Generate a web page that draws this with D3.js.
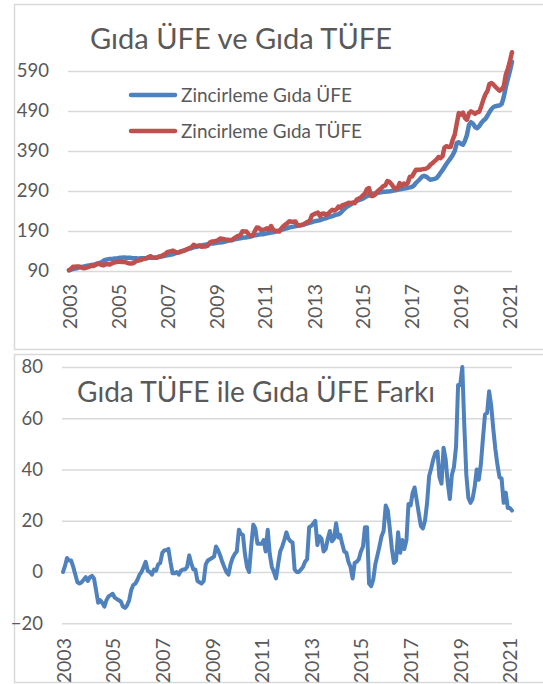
<!DOCTYPE html>
<html>
<head>
<meta charset="utf-8">
<script src="https://cdn.jsdelivr.net/npm/d3@7"></script>
<style>
  body { margin: 0; background: #fff; }
  svg { display: block; }
  text { font-family: Lato, "Open Sans", sans-serif; fill: #595959; }
</style>
</head>
<body>
<svg id="chart" width="543" height="684"></svg>
<script>
// monthly data, Jan 2003 .. Feb 2021
const startYear = 2003

const ufe = [
  92, 93, 95, 96, 97, 99, 100, 101, 102, 103, 104, 105,
  106, 107, 109, 110, 112, 116, 118, 119, 120, 120, 121, 121,
  122, 123, 123, 124, 123, 123, 123, 122, 122, 122, 121, 122,
  122, 122, 122, 123, 123, 123, 123, 124, 125, 126, 127, 128,
  129, 130, 131, 132, 134, 136, 137, 139, 141, 142, 144, 146,
  147, 149, 150, 151, 153, 154, 155, 156, 157, 158, 159, 159,
  160, 161, 161, 162, 163, 164, 166, 167, 168, 169, 170, 171,
  172, 173, 174, 174, 175, 176, 178, 179, 180, 181, 182, 182,
  183, 184, 185, 186, 187, 188, 190, 191, 193, 194, 196, 197,
  199, 200, 201, 202, 203, 204, 205, 206, 208, 209, 211, 212,
  214, 215, 216, 217, 219, 221, 222, 224, 226, 227, 229, 231,
  232, 235, 240, 245, 250, 253, 256, 259, 262, 265, 267, 269,
  271, 274, 277, 280, 282, 283, 284, 285, 286, 287, 288, 288,
  289, 289, 290, 291, 292, 293, 294, 295, 296, 297, 298, 299,
  300, 304, 310, 315, 320, 326, 328, 326, 322, 318, 319, 320,
  322, 328, 335, 342, 350, 358, 365, 372, 380, 390, 410, 412,
  408, 406, 415, 430, 455, 462, 458, 450, 447, 452, 460, 466,
  470, 478, 487, 495, 500, 502, 503, 504, 508, 525, 550, 570,
  590, 613
]

const tufe = [
  92, 95.5, 100.5, 100.5, 101.5, 101, 99, 97, 97.5, 99, 101, 103,
  102.5, 105, 107.5, 107.5, 105, 104, 107, 107, 106.5, 109, 111.5, 112,
  113.5, 113, 112.5, 113, 111.5, 109.5, 109, 109, 111, 115, 116, 117.5,
  119, 121, 122, 125, 127, 123.5, 123, 123, 126, 126.5, 130, 131.5,
  136.5, 138.5, 139.5, 141, 138, 135.5, 136.5, 139, 140, 142.5, 145, 147,
  149, 155.5, 153.5, 152, 154, 150.5, 151, 151.5, 153.5, 161, 163.5, 164,
  165.5, 167, 171, 170.5, 169.5, 168, 168, 167, 167, 172, 175.5, 178,
  180, 189.5, 189, 188.5, 182, 178, 178, 189, 198.5, 198, 193, 193,
  194, 196.5, 193, 202.5, 194, 190, 190, 188.5, 196, 202, 206, 209.5,
  214.5, 213, 213, 213.5, 204, 204, 205, 207, 210, 213, 216, 229.5,
  232, 234, 236, 227.5, 233, 234, 230, 233, 239, 243, 241, 244,
  251, 248.5, 254.5, 256, 258, 260.5, 260, 261, 259.5, 268.5, 271, 274,
  279, 284, 294.5, 297.5, 277.5, 277.5, 281, 288, 292.5, 297, 302, 304,
  315, 313, 307, 300, 295.5, 297.5, 309.5, 302.5, 308.5, 306, 310.5, 325.5,
  326, 335, 343, 343, 343, 344, 345, 346, 349, 355.5, 359.5, 364,
  368.5, 375, 372, 376.5, 398.5, 402, 400, 400.5, 418, 431, 459, 485,
  481, 486, 473, 468, 484, 489, 486.5, 483, 487, 488, 502, 518,
  531.5, 540, 557.5, 560, 556, 550, 545, 541, 544.5, 552, 581, 595,
  615, 637
]

const fark = [
  0, 2.5, 5.5, 4.5, 4.5, 2, -1, -4, -4.5, -4, -3, -2,
  -3.5, -2, -1.5, -2.5, -7, -12, -11, -12, -13.5, -11, -9.5, -9,
  -8.5, -10, -10.5, -11, -11.5, -13.5, -14, -13, -11, -7, -5, -4.5,
  -3, -1, 0, 2, 4, 0.5, 0, -1, 1, 0.5, 3, 3.5,
  7.5, 8.5, 8.5, 9, 4, -0.5, -0.5, 0, -1, 0.5, 1, 1,
  2, 6.5, 3.5, 1, 1, -3.5, -4, -4.5, -3.5, 3, 4.5, 5,
  5.5, 6, 10, 8.5, 6.5, 4, 2, 0, -1, 3, 5.5, 7,
  8, 16.5, 15, 14.5, 7, 2, 0, 10, 18.5, 17, 11, 11,
  11, 12.5, 8, 16.5, 7, 2, 0, -2.5, 3, 8, 10, 12.5,
  15.5, 13, 12, 11.5, 1, 0, 0, 1, 2, 4, 5, 17.5,
  18, 19, 20, 10.5, 14, 13, 8, 9, 13, 16, 12, 13,
  19, 13.5, 14.5, 11, 8, 7.5, 4, 2, -2.5, 3.5, 4, 5,
  8, 10, 17.5, 17.5, -4.5, -5.5, -3, 3, 6.5, 10, 14, 16,
  26, 24, 17, 9, 3.5, 4.5, 15.5, 7.5, 12.5, 9, 12.5, 26.5,
  26, 31, 33, 28, 23, 18, 17, 20, 27, 37.5, 40.5, 44,
  46.5, 47, 37, 34.5, 48.5, 44, 35, 28.5, 38, 41, 49, 73,
  73, 80, 58, 38, 29, 27, 28.5, 33, 40, 36, 42, 52,
  61.5, 62, 70.5, 65, 56, 48, 42, 37, 36.5, 27, 31, 25,
  25, 24
]

const topTicks = [90, 190, 290, 390, 490, 590]
const bottomTicks = [-20, 0, 20, 40, 60, 80]
const yearTicks = [2003, 2005, 2007, 2009, 2011, 2013, 2015, 2017, 2019, 2021]
const seriesNames = ['Zincirleme Gıda ÜFE', 'Zincirleme Gıda TÜFE']
const titles = ['Gıda ÜFE ve Gıda TÜFE', 'Gıda TÜFE ile Gıda ÜFE Farkı']

const blue = '#4f81bd'
const red = '#c0504d'
const grid = '#d9d9d9'

const dates = ufe.map((d, i) => new Date(startYear, i, 1))
const svg = d3.select('#chart')

// squeeze text to a width (Calibri is narrower than Lato at the same height)
const fitText = (sel, w) => {
  sel.attr('textLength', w).attr('lengthAdjust', 'spacingAndGlyphs')
}

const drawPanel = (p) => {
  svg.append('rect')
    .attr('x', 14.5).attr('y', p.top + 0.5)
    .attr('width', 540).attr('height', p.height)
    .style('fill', 'none').style('stroke', grid).style('stroke-width', 1.5)

  const x = d3.scaleTime()
    .domain([dates[0], dates[dates.length - 1]])
    .range([p.x0, p.x1])
  const y = d3.scaleLinear().domain(p.domain).range(p.range)

  const yAxis = svg.append('g')
    .attr('transform', 'translate(' + p.gridX + ',0)')
    .call(d3.axisLeft(y).tickValues(p.ticks).tickSize(-(p.x1 - p.gridX)).tickPadding(p.pad))
  yAxis.select('.domain').remove()
  yAxis.selectAll('line').style('stroke', grid).style('stroke-width', 1.5)
  yAxis.selectAll('text')
    .style('font-size', '18.5px').style('font-family', 'Lato, sans-serif')
    .attr('fill', '#595959')

  const xAxis = svg.append('g')
    .attr('transform', 'translate(0,' + p.labelY + ')')
    .call(d3.axisBottom(x)
      .tickValues(yearTicks.map(yr => new Date(yr, 0, 1)))
      .tickFormat(d3.timeFormat('%Y'))
      .tickSize(0))
  xAxis.select('.domain').remove()
  xAxis.selectAll('text')
    .attr('x', 0).attr('y', 0).attr('dy', '0.36em')
    .attr('transform', 'rotate(-90)')
    .style('text-anchor', 'end')
    .style('font-size', '19.5px').style('font-family', 'Lato, sans-serif')
    .attr('fill', '#595959')

  return { x, y }
}

// top panel
const topPanel = drawPanel({
  top: 4, height: 345, x0: 69, x1: 512, gridX: 68,
  domain: [90, 640], range: [271, 51], ticks: topTicks, pad: 19, labelY: 284
})

const line1 = d3.line()
  .x((d, i) => topPanel.x(dates[i]))
  .y(d => topPanel.y(d))

;[[ufe, blue], [tufe, red]].forEach(([vals, color]) => {
  svg.append('path')
    .datum(vals)
    .attr('d', line1)
    .style('fill', 'none')
    .style('stroke', color)
    .style('stroke-width', 4.5)
    .style('stroke-linejoin', 'round')
    .style('stroke-linecap', 'round')
})

svg.append('text')
  .attr('x', 90).attr('y', 49)
  .style('font-size', '29px')
  .text(titles[0])
  .call(fitText, 302)

const legendY = [95, 131]
const legendW = [171, 181]
seriesNames.forEach((name, i) => {
  svg.append('line')
    .attr('x1', 131).attr('x2', 175)
    .attr('y1', legendY[i]).attr('y2', legendY[i])
    .style('stroke', i === 0 ? blue : red)
    .style('stroke-width', 4.5)
    .style('stroke-linecap', 'round')
  svg.append('text')
    .attr('x', 181).attr('y', legendY[i])
    .attr('dy', '0.36em')
    .style('font-size', '19.5px')
    .text(name)
    .call(fitText, legendW[i])
})

// bottom panel
const botPanel = drawPanel({
  top: 354, height: 328, x0: 63, x1: 512, gridX: 62,
  domain: [-20, 80], range: [623.3, 367], ticks: bottomTicks, pad: 19, labelY: 638
})

const line2 = d3.line()
  .x((d, i) => botPanel.x(dates[i]))
  .y(d => botPanel.y(d))

svg.append('path')
  .datum(fark)
  .attr('d', line2)
  .style('fill', 'none')
  .style('stroke', blue)
  .style('stroke-width', 4)
  .style('stroke-linejoin', 'round')
  .style('stroke-linecap', 'round')

svg.append('text')
  .attr('x', 77).attr('y', 402)
  .style('font-size', '29px')
  .text(titles[1])
  .call(fitText, 358)
</script>
</body>
</html>
